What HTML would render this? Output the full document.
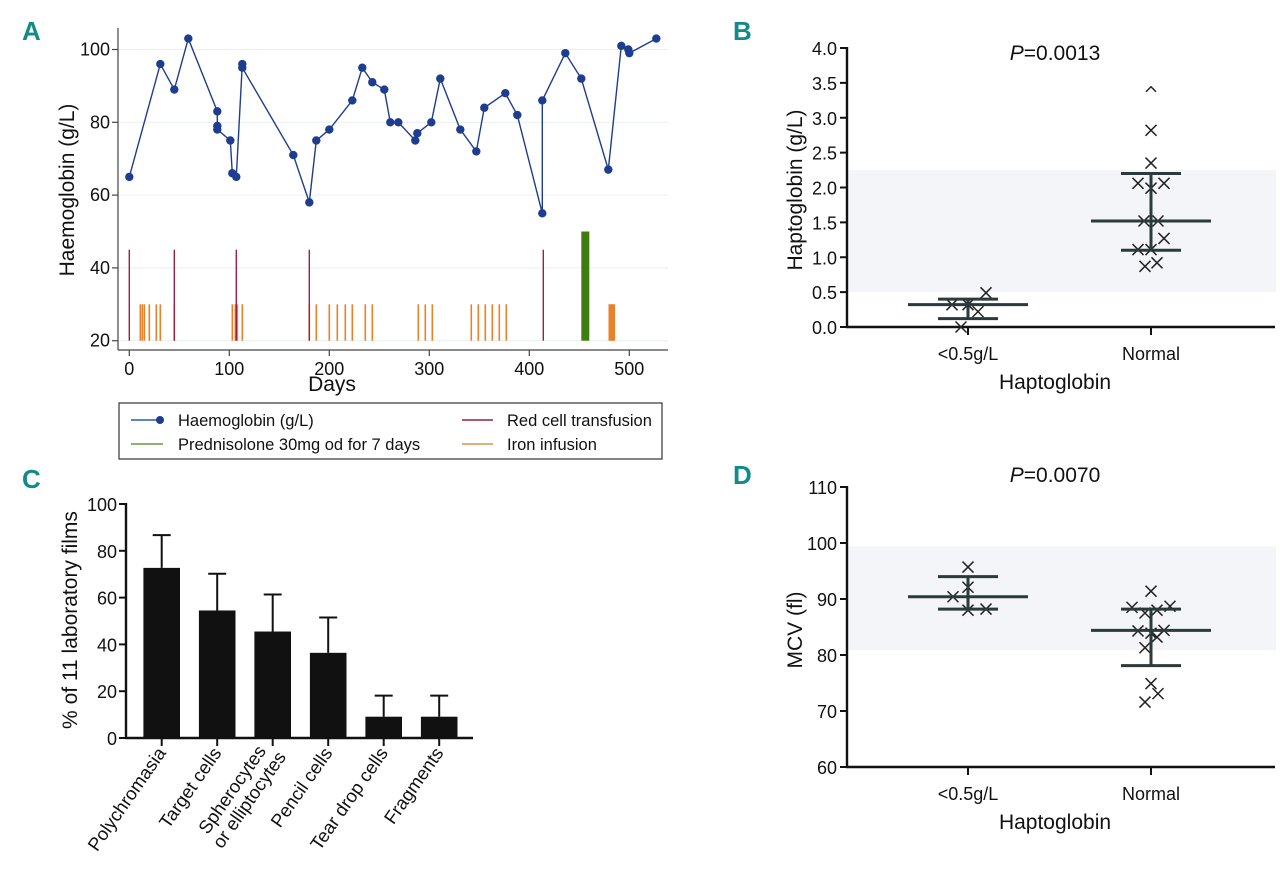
<!DOCTYPE html>
<html><head><meta charset="utf-8">
<style>
html,body{margin:0;padding:0;background:#fff;}
svg{display:block;font-family:"Liberation Sans",Arial,sans-serif;}
.n{font-family:"Liberation Sans Narrow","Liberation Sans",sans-serif;}
</style></head>
<body>
<svg id="fig" width="1280" height="869" viewBox="0 0 1280 869" xmlns="http://www.w3.org/2000/svg">
<rect width="1280" height="869" fill="#fff"/>
<g id="pA"></g>
<g id="pB"></g>
<g id="pC"></g>
<g id="pD"></g>
</svg>
<script>
// ---- Panel A data ----
const hbDays = [0,31,45,59,88,88,88,101,103,107,113,113,164,180,187,200,223,233,243,255,261,269,286,288,302,311,331,347,355,376,388,413,413,436,452,479,492,499,500,527];
const hbValues = [65,96,89,103,83,79,78,75,66,65,96,95,71,58,75,78,86,95,91,89,80,80,75,77,80,92,78,72,84,88,82,55,86,99,92,67,101,100,99,103];
const transfusionDays = [0,45,107,180,414];
const ironDays = [11,13,15,20,27,31,45,103,106,108,113,180,187,200,208,216,223,236,243,289,296,303,342,349,356,363,370,377,480,481,482,483,484,485];
const prednisoloneStart = [452];
const prednisoloneEnd = [460];
const aYTicks = [20,40,60,80,100];
const aXTicks = [0,100,200,300,400,500];
// ---- Panel B data ----
const bCategories = ["<0.5g/L","Normal"];
const bLowValues = [0.32,0.32,0.22,0.49,0.0];
const bLowJitter = [-16,0,10,18,-7];
const bNormValues = [3.43,2.82,2.35,2.06,1.99,2.06,1.52,1.52,1.27,1.11,1.11,0.87,0.92];
const bNormJitter = [0,0,0,-13,0,13,-7,7,13,-13,0,-6,6];
const bMeans = [0.32,1.52];
const bUpper = [0.40,2.20];
const bLower = [0.12,1.10];
const bYTicks = [0,0.5,1,1.5,2,2.5,3,3.5,4];
const bBand = [0.5,2.25];
// ---- Panel C data ----
const cCategories = ["Polychromasia","Target cells","Spherocytes|or elliptocytes","Pencil cells","Tear drop cells","Fragments"];
const cValues = [72.7,54.5,45.5,36.4,9.1,9.1];
const cErrors = [86.7,70.2,61.3,51.5,18.1,18.1];
const cYTicks = [0,20,40,60,80,100];
// ---- Panel D data ----
const dLowValues = [95.7,92.1,90.4,88.0,88.2];
const dLowJitter = [0,0,-15,0,18];
const dNormValues = [91.4,88.5,87.5,88,88.7,84.3,83.9,84.4,83.2,81.3,74.9,73.1,71.6];
const dNormJitter = [0,-19,-6,6,19,-13,0,13,6,-6,0,7,-6];
const dMeans = [90.4,84.4];
const dUpper = [94.0,88.2];
const dLower = [88.2,78.1];
const dYTicks = [60,70,80,90,100,110];
const dBand = [80.9,99.4];

const NS = "http://www.w3.org/2000/svg";
function mk(parent, tag, attrs, name) {
  const el = document.createElementNS(NS, tag);
  for (const k in attrs) el.setAttribute(k, attrs[k]);
  
  
  parent.appendChild(el);
  return el;
}
function txt(parent, x, y, s, attrs, name) {
  const el = mk(parent, 'text', Object.assign({x: x, y: y}, attrs), name);
  el.textContent = s;
  return el;
}

// ================= Panel A =================
(function(){
  const g = document.getElementById('pA');
  const ax = d => 129.3 + d * 1.0;
  const ay = v => 340.7 - (v - 20) * 3.64;
  const teal = "#138a8a";
  txt(g, 22, 40, "A", {fill: teal, 'font-size': 26, 'font-weight': 'bold', class: 'n'}, 'panel-label-a');
  aYTicks.forEach(t => {
    mk(g, 'line', {x1: 118, x2: 668, y1: ay(t), y2: ay(t), stroke: '#e8f0f0', 'stroke-width': 1}, 'gridline');
    mk(g, 'line', {x1: 112, x2: 118, y1: ay(t), y2: ay(t), stroke: '#444', 'stroke-width': 1.2}, 'y-tick');
    txt(g, 110, ay(t) + 6, String(t), {'text-anchor': 'end', 'font-size': 18, fill: '#111', class: 'n'}, 'y-tick-label');
  });
  aXTicks.forEach(t => {
    mk(g, 'line', {x1: ax(t), x2: ax(t), y1: 350, y2: 356, stroke: '#444', 'stroke-width': 1.2}, 'x-tick');
    txt(g, ax(t), 375, String(t), {'text-anchor': 'middle', 'font-size': 18, fill: '#111', class: 'n'}, 'x-tick-label');
  });
  mk(g, 'line', {x1: 118, x2: 118, y1: 28, y2: 350, stroke: '#444', 'stroke-width': 1.2}, 'y-axis');
  mk(g, 'line', {x1: 118, x2: 668, y1: 350, y2: 350, stroke: '#444', 'stroke-width': 1.2}, 'x-axis');
  txt(g, 332, 391, "Days", {'text-anchor': 'middle', 'font-size': 21, fill: '#111', class: 'n'}, 'x-axis-title');
  txt(g, 0, 0, "Haemoglobin (g/L)", {'text-anchor': 'middle', 'font-size': 21, fill: '#111', class: 'n', transform: 'translate(74,190) rotate(-90)'}, 'y-axis-title');
  ironDays.forEach(d => mk(g, 'line', {x1: ax(d), x2: ax(d), y1: ay(20), y2: ay(30), stroke: '#e8822a', 'stroke-width': 1.6}, 'iron-infusion-mark'));
  transfusionDays.forEach(d => mk(g, 'line', {x1: ax(d), x2: ax(d), y1: ay(20), y2: ay(45), stroke: '#9b1e45', 'stroke-width': 1.4}, 'transfusion-mark'));
  prednisoloneStart.forEach((s, i) => mk(g, 'rect', {x: ax(s), y: ay(50), width: ax(prednisoloneEnd[i]) - ax(s), height: ay(20) - ay(50), fill: '#3f7d10'}, 'prednisolone-bar'));
  const pts = hbDays.map((d, i) => ax(d) + ',' + ay(hbValues[i])).join(' ');
  mk(g, 'polyline', {points: pts, fill: 'none', stroke: '#1f3d8f', 'stroke-width': 1.4}, 'haemoglobin-line');
  hbDays.forEach((d, i) => mk(g, 'circle', {cx: ax(d), cy: ay(hbValues[i]), r: 4.2, fill: '#1f3d8f'}, 'haemoglobin-point'));
  // legend
  const lg = mk(g, 'g', {}, 'legend');
  mk(lg, 'rect', {x: 119, y: 403, width: 543, height: 56, fill: '#fff', stroke: '#333', 'stroke-width': 1.2}, 'legend-box');
  mk(lg, 'line', {x1: 131, x2: 160, y1: 420, y2: 420, stroke: '#2a5cb0', 'stroke-width': 1.5}, 'legend-hb-line');
  mk(lg, 'circle', {cx: 160, cy: 420, r: 4, fill: '#1f3d8f'}, 'legend-hb-marker');
  txt(lg, 178, 426, "Haemoglobin (g/L)", {'font-size': 16.5, fill: '#111'}, 'legend-entry-haemoglobin');
  mk(lg, 'line', {x1: 131, x2: 163, y1: 444, y2: 444, stroke: '#6a9a3a', 'stroke-width': 1.5}, 'legend-prednisolone-line');
  txt(lg, 178, 450, "Prednisolone 30mg od for 7 days", {'font-size': 16.5, fill: '#111'}, 'legend-entry-prednisolone');
  mk(lg, 'line', {x1: 462, x2: 493, y1: 420, y2: 420, stroke: '#9b1e45', 'stroke-width': 1.5}, 'legend-transfusion-line');
  txt(lg, 507, 426, "Red cell transfusion", {'font-size': 16.5, fill: '#111'}, 'legend-entry-transfusion');
  mk(lg, 'line', {x1: 462, x2: 493, y1: 444, y2: 444, stroke: '#e0904a', 'stroke-width': 1.5}, 'legend-iron-line');
  txt(lg, 507, 450, "Iron infusion", {'font-size': 16.5, fill: '#111'}, 'legend-entry-iron');
})();

// ================= Scatter panels B & D =================
function scatterPanel(gid, letter, labelY, yTop, yBot, tMin, tMax, ticks, fmt, band, lowV, lowJ, normV, normJ, means, up, lo, pText, pY, yTitle, yTitleY, caretTop) {
  const g = document.getElementById(gid);
  const sy = v => yBot - (v - tMin) / (tMax - tMin) * (yBot - yTop);
  const cx = [968, 1151];
  txt(g, 733, labelY, letter, {fill: "#138a8a", 'font-size': 26, 'font-weight': 'bold', class: 'n'}, 'panel-label-' + letter.toLowerCase());
  mk(g, 'rect', {x: 848, y: sy(band[1]), width: 428, height: sy(band[0]) - sy(band[1]), fill: '#f3f5f8'}, 'normal-range-band');
  ticks.forEach(t => {
    mk(g, 'line', {x1: 840, x2: 847, y1: sy(t), y2: sy(t), stroke: '#111', 'stroke-width': 2}, 'y-tick');
    txt(g, 837, sy(t) + 7, fmt(t), {'text-anchor': 'end', 'font-size': 18, fill: '#111'}, 'y-tick-label');
  });
  mk(g, 'line', {x1: 847, x2: 847, y1: yTop - 1, y2: yBot + 1, stroke: '#111', 'stroke-width': 2.4}, 'y-axis');
  mk(g, 'line', {x1: 846, x2: 1275, y1: yBot, y2: yBot, stroke: '#111', 'stroke-width': 2.4}, 'x-axis');
  bCategories.forEach((c, i) => {
    mk(g, 'line', {x1: cx[i], x2: cx[i], y1: yBot, y2: yBot + 8, stroke: '#111', 'stroke-width': 2}, 'x-tick');
    txt(g, cx[i], yBot + 33, c, {'text-anchor': 'middle', 'font-size': 18, fill: '#111'}, 'x-tick-label');
  });
  txt(g, 1055, yBot + 62, "Haptoglobin", {'text-anchor': 'middle', 'font-size': 21, fill: '#111'}, 'x-axis-title');
  txt(g, 0, 0, yTitle, {'text-anchor': 'middle', 'font-size': 21, fill: '#111', transform: 'translate(802,' + yTitleY + ') rotate(-90)'}, 'y-axis-title');
  const p = txt(g, 1055, pY, "", {'text-anchor': 'middle', 'font-size': 21, fill: '#111'}, 'p-value');
  const ts1 = mk(p, 'tspan', {'font-style': 'italic'}, 'p-letter');
  ts1.textContent = "P";
  const ts2 = mk(p, 'tspan', {}, 'p-number');
  ts2.textContent = pText;
  const cross = (x, y, nm, caret) => {
    const d = caret ? `M${x-5},${y+4} L${x},${y-1} L${x+5},${y+4}` : `M${x-5.5},${y-5.5} L${x+5.5},${y+5.5} M${x-5.5},${y+5.5} L${x+5.5},${y-5.5}`;
    mk(g, 'path', {d: d, stroke: '#222', 'stroke-width': 1.5, fill: 'none'}, nm);
  };
  lowV.forEach((v, i) => cross(cx[0] + lowJ[i], sy(v), 'point-low'));
  normV.forEach((v, i) => cross(cx[1] + normJ[i], sy(v), 'point-normal', caretTop && i === 0));
  [0, 1].forEach(i => {
    const col = '#2b3a3a';
    mk(g, 'line', {x1: cx[i], x2: cx[i], y1: sy(up[i]), y2: sy(lo[i]), stroke: col, 'stroke-width': 3}, 'sd-bar');
    mk(g, 'line', {x1: cx[i] - 30, x2: cx[i] + 30, y1: sy(up[i]), y2: sy(up[i]), stroke: col, 'stroke-width': 3}, 'sd-upper-cap');
    mk(g, 'line', {x1: cx[i] - 30, x2: cx[i] + 30, y1: sy(lo[i]), y2: sy(lo[i]), stroke: col, 'stroke-width': 3}, 'sd-lower-cap');
    mk(g, 'line', {x1: cx[i] - 60, x2: cx[i] + 60, y1: sy(means[i]), y2: sy(means[i]), stroke: col, 'stroke-width': 3}, 'mean-line');
  });
}
scatterPanel('pB', 'B', 40, 48, 327, 0, 4, bYTicks, t => t.toFixed(1), bBand, bLowValues, bLowJitter, bNormValues, bNormJitter, bMeans, bUpper, bLower, "=0.0013", 60, "Haptoglobin (g/L)", 190, true);
scatterPanel('pD', 'D', 484, 487, 767, 60, 110, dYTicks, t => String(t), dBand, dLowValues, dLowJitter, dNormValues, dNormJitter, dMeans, dUpper, dLower, "=0.0070", 482, "MCV  (fl)", 630, false);

// ================= Panel C =================
(function(){
  const g = document.getElementById('pC');
  const sy = v => 738 - v * 2.34;
  const bx = i => 161.7 + i * 55.5;
  txt(g, 22, 488, "C", {fill: "#138a8a", 'font-size': 26, 'font-weight': 'bold', class: 'n'}, 'panel-label-c');
  cYTicks.forEach(t => {
    mk(g, 'line', {x1: 119, x2: 126, y1: sy(t), y2: sy(t), stroke: '#111', 'stroke-width': 2}, 'y-tick');
    txt(g, 117, sy(t) + 7, String(t), {'text-anchor': 'end', 'font-size': 18, fill: '#111'}, 'y-tick-label');
  });
  txt(g, 0, 0, "% of 11 laboratory films", {'text-anchor': 'middle', 'font-size': 21, fill: '#111', transform: 'translate(77,620) rotate(-90)'}, 'y-axis-title');
  cCategories.forEach((c, i) => {
    const x = bx(i);
    mk(g, 'line', {x1: x, x2: x, y1: sy(cValues[i]), y2: sy(cErrors[i]), stroke: '#111', 'stroke-width': 2}, 'error-bar');
    mk(g, 'line', {x1: x - 9, x2: x + 9, y1: sy(cErrors[i]), y2: sy(cErrors[i]), stroke: '#111', 'stroke-width': 2}, 'error-cap');
    mk(g, 'rect', {x: x - 18.3, y: sy(cValues[i]), width: 36.6, height: sy(0) - sy(cValues[i]), fill: '#111'}, 'bar-' + c.split('|')[0].toLowerCase().replace(/ /g, '-'));
    mk(g, 'line', {x1: x, x2: x, y1: 738, y2: 746, stroke: '#111', 'stroke-width': 2}, 'x-tick');
    const parts = c.split('|');
    if (parts.length === 1) {
      txt(g, 0, 0, c, {'text-anchor': 'end', 'font-size': 18.5, fill: '#111', transform: `translate(${x + 5},${753}) rotate(-55)`}, 'x-tick-label');
    } else {
      txt(g, 0, 0, parts[0], {'text-anchor': 'end', 'font-size': 18.5, fill: '#111', transform: `translate(${x - 6},${751}) rotate(-55)`}, 'x-tick-label');
      txt(g, 0, 0, parts[1], {'text-anchor': 'end', 'font-size': 18.5, fill: '#111', transform: `translate(${x + 14},${757}) rotate(-55)`}, 'x-tick-label');
    }
  });
  mk(g, 'line', {x1: 126, x2: 126, y1: 503, y2: 739, stroke: '#111', 'stroke-width': 2.4}, 'y-axis');
  mk(g, 'line', {x1: 125, x2: 473, y1: 738, y2: 738, stroke: '#111', 'stroke-width': 2.4}, 'x-axis');
})();
</script>
</body></html>
